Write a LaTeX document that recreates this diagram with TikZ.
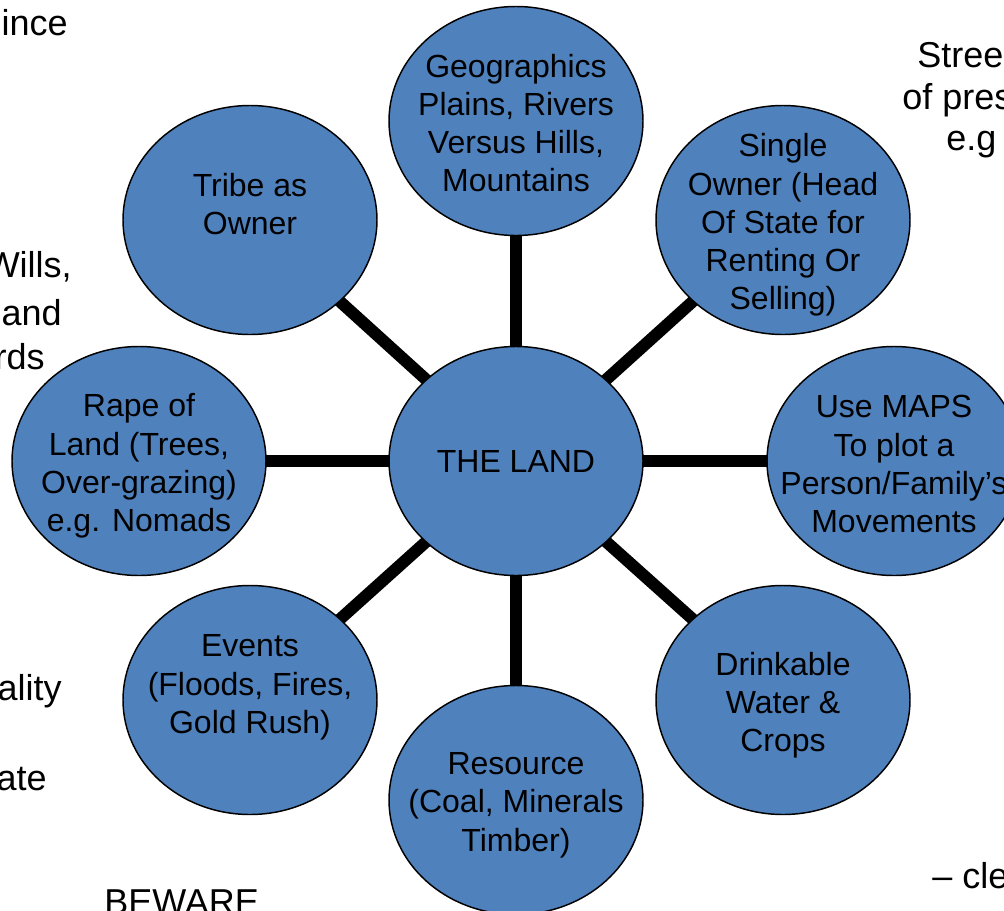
\documentclass[tikz,border=0pt]{standalone}
\usepackage{fontspec}
\setmainfont{Liberation Sans}
\usetikzlibrary{shapes.geometric,backgrounds}
\definecolor{bubble}{RGB}{79,129,189}
\tikzset{
  bubble/.style={ellipse, draw=black, line width=1.1pt, fill=bubble,
    minimum width=190.5pt, minimum height=171.75pt, inner sep=0pt},
  btext/.style={align=center, inner sep=0pt, font=\fontsize{24}{28.7}\selectfont},
  btextlow/.style={btext, yshift=-3.8pt},
  conn/.style={line width=9pt, draw=black},
  sidel/.style={anchor=base east, inner sep=0pt, font=\fontsize{27}{31}\selectfont},
  sider/.style={anchor=base west, inner sep=0pt, font=\fontsize{27}{31}\selectfont}
}
\begin{document}
\begin{tikzpicture}[x=0.75pt,y=-0.75pt]
\useasboundingbox (0,0) rectangle (1004,911);
\clip (0,0) rectangle (1004,911);
% bubbles
\node[bubble, label={[btext]center:THE LAND}] (land) at (516,461) {};
\node[bubble, label={[btext, yshift=-1.5pt]center:Geographics\\Plains, Rivers\\Versus Hills,\\Mountains}] (geo) at (516,121) {};
\node[bubble, label={[btext]center:Tribe as\\Owner\rule[-24pt]{0pt}{24pt}}] (tribe) at (250,220) {};
\node[bubble, label={[btextlow]center:Single\\Owner (Head\\Of State for\\Renting Or\\Selling)}] (single) at (783,220) {};
\node[bubble, label={[btextlow]center:Rape of\\Land (Trees,\\Over-grazing)\\e.g. Nomads}] (rape) at (139,461) {};
\node[bubble, label={[btext, yshift=-2.5pt]center:Use MAPS\\To plot a\\Person/Family’s\\Movements}] (maps) at (894,461) {};
\node[bubble, label={[btext]center:Events\\(Floods, Fires,\\Gold Rush)\rule[-24pt]{0pt}{24pt}}] (events) at (250,700) {};
\node[bubble, label={[btextlow]center:Resource\\(Coal, Minerals\\Timber)}] (resource) at (516,800) {};
\node[bubble, label={[btextlow]center:Drinkable\\Water \&\\Crops}] (drink) at (783,700) {};
% connectors
\begin{scope}[on background layer]
\foreach \n in {geo,tribe,single,rape,maps,events,resource,drink}
  \draw[conn] (land.center) -- (\n.center);
\end{scope}
% cut-off side texts
\node[sidel] (s1) at (68,35) {ince};
\node[sidel] (s2) at (72,277) {Wills,};
\node[sidel] (s3) at (62,325) {and};
\node[sidel] (s4) at (45,369) {rds};
\node[sidel] (s5) at (62,700) {ality};
\node[sidel] (s6) at (47,790) {ate};
\node[sider] (s7) at (104,914) {BEWARE};
\node[sider] (s8) at (917,67) {Stree};
\node[sider] (s9) at (902,109) {of pres};
\node[sider] (s10) at (946,150) {e.g};
\node[sider] (s11) at (932,888) {– clea};
\end{tikzpicture}
\end{document}
